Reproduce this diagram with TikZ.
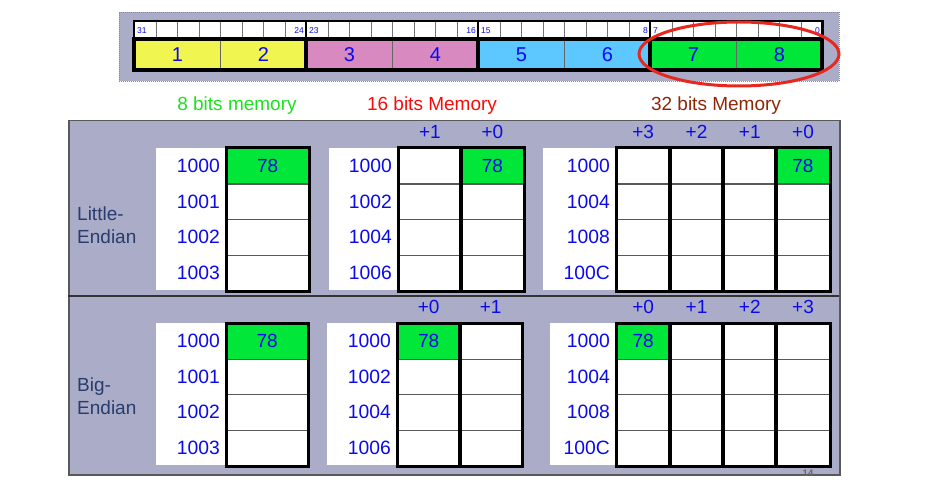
\documentclass[tikz,border=0pt]{standalone}
\usepackage{fontspec}
\setmainfont{Liberation Sans}
\usetikzlibrary{shapes.geometric}
\definecolor{panelbg}{RGB}{171,173,200}
\definecolor{cellgreen}{RGB}{0,230,57}
\definecolor{byteyellow}{RGB}{240,245,80}
\definecolor{bytepink}{RGB}{216,138,192}
\definecolor{byteblue}{RGB}{92,200,255}
\definecolor{txtblue}{RGB}{10,10,235}
\definecolor{headgreen}{RGB}{30,225,30}
\definecolor{headred}{RGB}{250,10,10}
\definecolor{headbrown}{RGB}{140,40,5}
\definecolor{lblnavy}{RGB}{40,60,110}
\definecolor{ellred}{RGB}{232,40,30}
\newcommand{\memtab}[8]{%
  \node[addrbg,minimum width={#3-#2}] (#1bg) at (#2,#6) {};
  \foreach \r/\a in {#7} {
    \node[addr] (#1a\r) at (#3-6,#6+35.5*\r+18) {\a};
    \foreach \c in {0,...,#5} {
      \ifnum\r=0 \ifnum\c=#8 \gdef\fc{cellgreen}\gdef\tx{78}\else\gdef\fc{white}\gdef\tx{}\fi\else\gdef\fc{white}\gdef\tx{}\fi
      \node[cell,fill=\fc,minimum width=#4pt] (#1c\r\c) at (#3+#4*\c,#6+35.5*\r) {\tx};
    }
  }
  \foreach \c in {0,...,#5} \draw[outline] (#1c0\c.north west) rectangle (#1c3\c.south east);
}
\begin{document}
\begin{tikzpicture}[x=1pt,y=-1pt,
  cell/.style={rectangle,draw=black!65,line width=1.2pt,minimum height=35.5pt,inner sep=0pt,anchor=north west,text=txtblue,font=\fontsize{19}{22}\selectfont},
  addr/.style={anchor=east,inner sep=0pt,text=txtblue,font=\fontsize{19.3}{22}\selectfont},
  addrbg/.style={rectangle,fill=white,inner sep=0pt,anchor=north west,minimum height=142pt},
  offs/.style={inner sep=0pt,anchor=south,text=txtblue,font=\fontsize{19}{22}\selectfont},
  heading/.style={inner sep=0pt,font=\fontsize{19}{22}\selectfont},
  endlbl/.style={anchor=west,align=left,inner sep=0pt,text=lblnavy,font=\fontsize{19}{23}\selectfont},
  outline/.style={draw=black,line width=3pt},
  bitcell/.style={rectangle,fill=white,draw=black!55,line width=1pt,minimum width=21.5pt,minimum height=16pt,inner sep=0pt,anchor=north west},
  bitlbl/.style={inner sep=0pt,text=txtblue,font=\fontsize{8.5}{9}\selectfont},
  nib/.style={rectangle,draw=black!60,line width=1pt,minimum width=86pt,minimum height=31pt,inner sep=0pt,anchor=north west,text=txtblue,font=\fontsize{20}{22}\selectfont},
]
\useasboundingbox (0,0) rectangle (928,497);
% ---------- top banner ----------
\node[rectangle,fill=panelbg,draw=black!45,dash pattern=on 1pt off 1pt,line width=0.8pt,minimum width=720pt,minimum height=69pt,inner sep=0pt,anchor=north west] (banner) at (119,12) {};
\foreach \i in {0,...,31} \node[bitcell] (bit\i) at (134+21.5*\i,21) {};
\draw[black,line width=2pt] (bit0.north west) rectangle (bit31.south east);
\foreach \b in {0,...,4} \draw[black,line width=2.5pt] (134+172*\b,21) -- (134+172*\b,38);
\node[bitlbl,anchor=west] (b31) at ([xshift=3pt,yshift=-1.5pt]bit0.west) {31};
\node[bitlbl,anchor=east] (b24) at ([xshift=-3pt,yshift=-1.5pt]bit7.east) {24};
\node[bitlbl,anchor=west] (b23) at ([xshift=3pt,yshift=-1.5pt]bit8.west) {23};
\node[bitlbl,anchor=east] (b16) at ([xshift=-3pt,yshift=-1.5pt]bit15.east) {16};
\node[bitlbl,anchor=west] (b15) at ([xshift=3pt,yshift=-1.5pt]bit16.west) {15};
\node[bitlbl,anchor=east] (b8) at ([xshift=-3pt,yshift=-1.5pt]bit23.east) {8};
\node[bitlbl,anchor=west] (b7) at ([xshift=3pt,yshift=-1.5pt]bit24.west) {7};
\node[bitlbl,anchor=east] (b0) at ([xshift=-3pt,yshift=-1.5pt]bit31.east) {0};
\foreach \b/\col in {0/byteyellow,1/bytepink,2/byteblue,3/cellgreen} {
  \foreach \n in {0,1} {
    \pgfmathtruncatemacro\num{2*\b+\n+1}
    \node[nib,fill=\col] (nib\num) at (134+172*\b+86*\n,39) {\num};
  }
  \draw[black,line width=4pt] (134+172*\b,39) rectangle (306+172*\b,70);
}
\node[ellipse,draw=ellred,line width=3pt,minimum width=200pt,minimum height=64pt,inner sep=0pt] (hl) at (739,54) {};
% ---------- headings ----------
\node[heading,text=headgreen] (h8) at (237,106) {8 bits memory};
\node[heading,text=headred] (h16) at (432,106) {16 bits Memory};
\node[heading,text=headbrown] (h32) at (716,106) {32 bits Memory};
% ---------- panel ----------
\node[rectangle,fill=panelbg,draw=black!65,line width=1.5pt,minimum width=771pt,minimum height=354pt,inner sep=0pt,anchor=north west] (panel) at (68,120) {};
\coordinate (dL) at (68,296);
\coordinate (dR) at (839,296);
\draw[black!80,line width=2.5pt] (dL) -- (dR);
\node[endlbl] (lit) at (77,225) {Little-\\Endian};
\node[endlbl] (big) at (77,396) {Big-\\Endian};
% little endian tables
\memtab{La}{156}{226}{82}{0}{148}{0/1000,1/1001,2/1002,3/1003}{0}
\memtab{Lb}{329}{398}{62.5}{1}{148}{0/1000,1/1002,2/1004,3/1006}{1}
\memtab{Lc}{543}{616}{53.25}{3}{148}{0/1000,1/1004,2/1008,3/100C}{3}
% big endian tables
\memtab{Ba}{156}{226}{81}{0}{323}{0/1000,1/1001,2/1002,3/1003}{0}
\memtab{Bb}{327}{397}{62}{1}{323}{0/1000,1/1002,2/1004,3/1006}{0}
\memtab{Bc}{550}{616}{53.25}{3}{323}{0/1000,1/1004,2/1008,3/100C}{0}
% offsets
\node[offs,above=9pt] (Lbo0) at (Lbc00.north) {+1};
\node[offs,above=9pt] (Lbo1) at (Lbc01.north) {+0};
\node[offs,above=9pt] (Lco0) at (Lcc00.north) {+3};
\node[offs,above=9pt] (Lco1) at (Lcc01.north) {+2};
\node[offs,above=9pt] (Lco2) at (Lcc02.north) {+1};
\node[offs,above=9pt] (Lco3) at (Lcc03.north) {+0};
\node[offs,above=9pt] (Bbo0) at (Bbc00.north) {+0};
\node[offs,above=9pt] (Bbo1) at (Bbc01.north) {+1};
\node[offs,above=9pt] (Bco0) at (Bcc00.north) {+0};
\node[offs,above=9pt] (Bco1) at (Bcc01.north) {+1};
\node[offs,above=9pt] (Bco2) at (Bcc02.north) {+2};
\node[offs,above=9pt] (Bco3) at (Bcc03.north) {+3};
\node[inner sep=0pt,text=black!60,font=\bfseries\fontsize{9.5}{10}\selectfont] (pg) at (808,473) {14};
\end{tikzpicture}
\end{document}
